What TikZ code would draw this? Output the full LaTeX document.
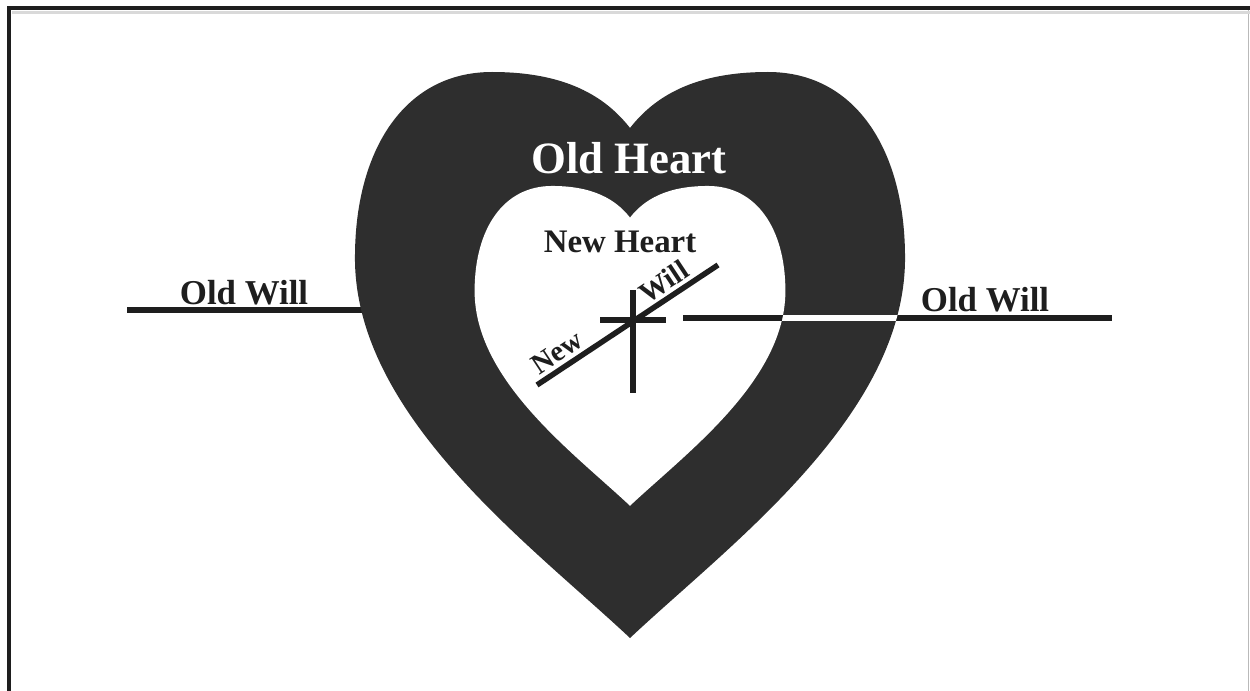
\documentclass[tikz,border=0pt]{standalone}
\usepackage{fontspec}
\setmainfont{Liberation Serif}
\definecolor{heartdark}{HTML}{2E2E2E}
\definecolor{inkdark}{HTML}{1E1E1E}
\newcommand{\heartoutline}{(0,304) .. controls (-100,210) and (-278,80) .. (-275,-80) .. controls (-274,-185) and (-225,-262) .. (-138,-262) .. controls (-65,-262) and (-25,-238) .. (0,-206) .. controls (25,-238) and (65,-262) .. (138,-262) .. controls (225,-262) and (274,-185) .. (275,-80) .. controls (278,80) and (100,210) .. (0,304) -- cycle}
\tikzset{
  willline/.style={draw=inkdark, line width=5.5bp},
  crossline/.style={draw=inkdark, line width=5.5bp},
  bigtext/.style={font=\bfseries\fontsize{45}{45}\selectfont, inner sep=0pt, anchor=base},
  midtext/.style={font=\bfseries\fontsize{33}{33}\selectfont, inner sep=0pt, anchor=base, text=inkdark},
  smalltext/.style={font=\bfseries\fontsize{29}{29}\selectfont, inner sep=0pt, anchor=base, text=inkdark, rotate=33.5},
}
\begin{document}
\begin{tikzpicture}[x=1bp, y=-1bp]
\useasboundingbox (0,0) rectangle (1250,691);
\fill[white] (0,0) rectangle (1250,691);
% frame
\draw[gray!55, line width=1.5bp] (1248.5,8) -- (1248.5,691);
\draw[gray!30, line width=3bp] (12,12.5) -- (1250,12.5);
\draw[inkdark, line width=4bp] (9,691) -- (9,8) -- (1250,8);
% left old will line (under the heart)
\coordinate (lwA) at (127,310);
\coordinate (lwB) at (400,310);
\draw[willline] (lwA) -- (lwB);
% hearts
\fill[heartdark, shift={(630,334)}] \heartoutline;
\fill[white, shift={(630,334)}, scale=0.565] \heartoutline;
% right old will line
\coordinate (rwA) at (683,318);
\coordinate (rwB) at (1112,318);
\draw[willline] (rwA) -- (rwB);
\begin{scope}
  \clip[shift={(630,334)}] \heartoutline;
  \draw[willline, draw=white] (rwA) -- (rwB);
\end{scope}
\begin{scope}
  \clip[shift={(630,334)}, scale=0.565] \heartoutline;
  \draw[willline] (rwA) -- (rwB);
\end{scope}
% cross
\coordinate (vt) at (633,290);
\coordinate (vb) at (633,393);
\coordinate (hl) at (600,320);
\coordinate (hr) at (666,320);
\coordinate (dA) at (537,385);
\coordinate (dB) at (718,265);
\draw[crossline] (vt) -- (vb);
\draw[crossline] (hl) -- (hr);
\draw[crossline] (dA) -- (dB);
% texts
\node[bigtext, text=white] (oldheart) at (629,174) {Old Heart};
\node[midtext] (newheart) at (620,252) {New Heart};
\node[midtext, font=\bfseries\fontsize{35}{35}\selectfont] (oldwillL) at (244,304) {Old Will};
\node[midtext, font=\bfseries\fontsize{35}{35}\selectfont] (oldwillR) at (985,311) {Old Will};
\node[smalltext] (newword) at (562,360) {New};
\node[smalltext] (willword) at (669,290) {Will};
\end{tikzpicture}
\end{document}
